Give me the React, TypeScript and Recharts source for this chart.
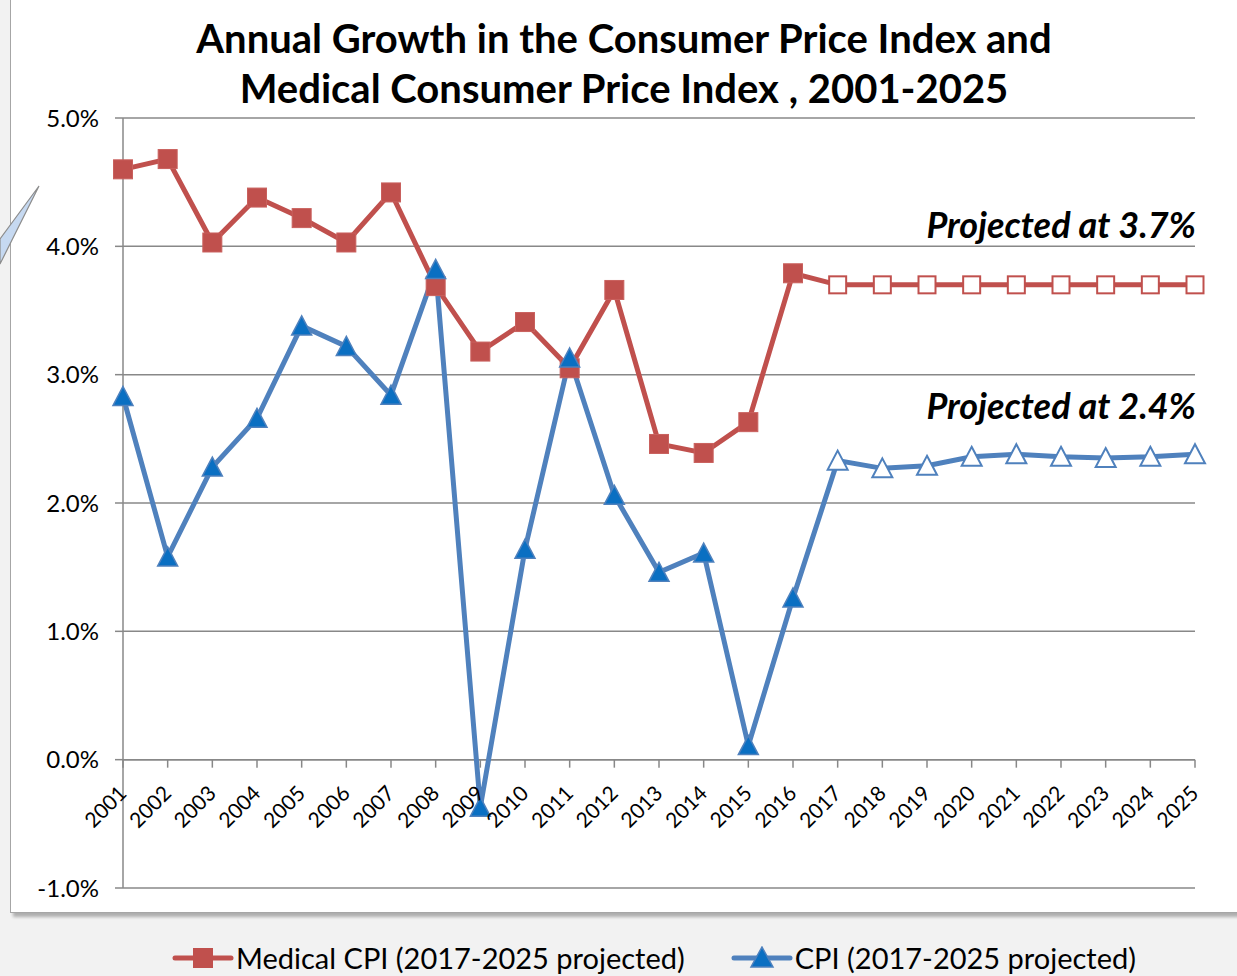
import React from 'react';
import { LineChart, Line, XAxis, YAxis, CartesianGrid, ReferenceLine } from 'recharts';

/** Years on the category axis */
const YEARS = [
  '2001', '2002', '2003', '2004', '2005', '2006', '2007', '2008', '2009', '2010', '2011', '2012', '2013',
  '2014', '2015', '2016', '2017', '2018', '2019', '2020', '2021', '2022', '2023', '2024', '2025',
];

/** Medical CPI annual growth, % */
const MEDICAL_CPI = [
  4.6, 4.68, 4.03, 4.38, 4.22, 4.03, 4.42, 3.69, 3.18, 3.41, 3.05, 3.66, 2.46,
  2.39, 2.63, 3.79, 3.7, 3.7, 3.7, 3.7, 3.7, 3.7, 3.7, 3.7, 3.7,
];

/** CPI annual growth, % */
const CPI = [
  2.83, 1.58, 2.28, 2.66, 3.38, 3.22, 2.84, 3.82, -0.37, 1.64, 3.13, 2.06, 1.46,
  1.61, 0.11, 1.26, 2.33, 2.27, 2.29, 2.36, 2.38, 2.36, 2.35, 2.36, 2.38,
];

const Y_TICKS = [-1, 0, 1, 2, 3, 4, 5];

/** Index of the first projected year (2017) */
const PROJECTED_FROM = 16;

const data = YEARS.map((year, i) => ({ year, medical: MEDICAL_CPI[i], cpi: CPI[i] }));

const FONT = 'Lato, "Open Sans", sans-serif';
const RED = '#c0504d';
const BLUE = '#4f81bd';
const TRI_FILL = '#0a6fc2';
const GRID = '#888888';

const W = 1237;
const H = 976;
const MARGIN = { top: 118, right: 42, bottom: 58, left: 63 };
const X_AXIS_H = 30;
const Y_AXIS_W = 60;
const Y_MIN = -1;
const Y_MAX = 5;
const PLOT_H = H - MARGIN.top - MARGIN.bottom - X_AXIS_H;
/** pixel row of the 0% line, where the category axis crosses */
const ZERO_Y = MARGIN.top + (PLOT_H * Y_MAX) / (Y_MAX - Y_MIN);

function SquareDot(props: any) {
  const { cx, cy, index } = props;
  if (cx == null || cy == null) return null;
  const hollow = index >= PROJECTED_FROM;
  const s = hollow ? 17 : 19;
  return (
    <rect
      key={`sq-${index}`}
      x={cx - s / 2}
      y={cy - s / 2}
      width={s}
      height={s}
      fill={hollow ? '#ffffff' : RED}
      stroke={hollow ? RED : '#c9605d'}
      strokeWidth={hollow ? 2 : 1}
    />
  );
}

function TriangleDot(props: any) {
  const { cx, cy, index } = props;
  if (cx == null || cy == null) return null;
  const hollow = index >= PROJECTED_FROM;
  const w = 20;
  const h = 18;
  const d = `M${cx},${cy - h / 2 - 1} L${cx + w / 2},${cy + h / 2} L${cx - w / 2},${cy + h / 2} Z`;
  return (
    <path
      key={`tr-${index}`}
      d={d}
      fill={hollow ? '#ffffff' : TRI_FILL}
      stroke={BLUE}
      strokeWidth={hollow ? 2 : 1.5}
      strokeLinejoin="miter"
    />
  );
}

function YearTick(props: any) {
  const { x, payload } = props;
  const ax = x + 5;
  const ay = ZERO_Y + 35;
  return (
    <g>
      <line x1={x} y1={ZERO_Y} x2={x} y2={ZERO_Y + 8} stroke={GRID} strokeWidth={1.5} />
      <text
        x={ax}
        y={ay}
        transform={`rotate(-45, ${ax}, ${ay})`}
        textAnchor="end"
        fontFamily={FONT}
        fontSize={21}
        fill="#000"
      >
        {payload.value}
      </text>
    </g>
  );
}

function LegendItem({ color, label, marker }: { color: string; label: string; marker: 'square' | 'triangle' }) {
  return (
    <span style={{ display: 'inline-flex', alignItems: 'center', marginRight: 46 }}>
      <svg width={62} height={24} style={{ marginRight: 2 }}>
        <line x1={3} y1={12} x2={59} y2={12} stroke={color} strokeWidth={5} strokeLinecap="round" />
        {marker === 'square' ? (
          <rect x={21} y={2} width={20} height={20} fill={RED} />
        ) : (
          <path d="M31,1 L42,21 L20,21 Z" fill={TRI_FILL} stroke={BLUE} strokeWidth={1.5} />
        )}
      </svg>
      <span>{label}</span>
    </span>
  );
}

export default function App(): React.JSX.Element {
  return (
    <div
      style={{
        position: 'absolute', left: 0, top: 0, width: W, height: H,
        background: '#f2f2f2', overflow: 'hidden', fontFamily: FONT,
      }}
    >
      {/* chart frame */}
      <div
        style={{
          position: 'absolute', left: 10, top: -4, width: W, height: 915,
          background: '#ffffff', border: '1.5px solid #a6a6a6',
          boxShadow: '3px 4px 3px rgba(0,0,0,0.28)',
        }}
      />
      {/* callout tail */}
      <svg width={50} height={100} style={{ position: 'absolute', left: 0, top: 176 }}>
        <polygon points="0,63 39,10 0,88" fill="#c6d9f1" stroke="#8c8c8c" strokeWidth={1.2} />
      </svg>

      <div
        style={{
          position: 'absolute', left: 0, top: 13, width: 1248, textAlign: 'center',
          fontSize: 40, fontWeight: 700, lineHeight: '50px', color: '#000',
        }}
      >
        Annual Growth in the Consumer Price Index and
        <br />
        Medical Consumer Price Index , 2001-2025
      </div>

      <div style={{ position: 'absolute', left: 0, top: 0 }}>
        <LineChart width={W} height={H} data={data} margin={MARGIN}>
          <CartesianGrid horizontal vertical={false} stroke={GRID} strokeWidth={1.5} strokeDasharray="" />
          <XAxis
            dataKey="year"
            height={X_AXIS_H}
            axisLine={false}
            tickLine={false}
            interval={0}
            tick={<YearTick />}
          />
          <YAxis
            width={Y_AXIS_W}
            domain={[Y_MIN, Y_MAX]}
            ticks={Y_TICKS}
            type="number"
            allowDataOverflow
            tickFormatter={(v: number) => `${v.toFixed(1)}%`}
            tick={{ fontFamily: FONT, fontSize: 24, fill: '#000' }}
            tickSize={8}
            tickMargin={16}
            axisLine={{ stroke: GRID, strokeWidth: 1.5 }}
            tickLine={{ stroke: GRID, strokeWidth: 1.5 }}
          />
          <ReferenceLine y={0} stroke={GRID} strokeWidth={1.5} />
          <Line
            dataKey="medical"
            stroke={RED}
            strokeWidth={5}
            dot={<SquareDot />}
            activeDot={false}
            isAnimationActive={false}
          />
          <Line
            dataKey="cpi"
            stroke={BLUE}
            strokeWidth={5}
            dot={<TriangleDot />}
            activeDot={false}
            isAnimationActive={false}
          />
        </LineChart>
      </div>

      <div
        style={{
          position: 'absolute', right: 41, top: 202, fontSize: 36, fontWeight: 700,
          fontStyle: 'italic', color: '#000',
        }}
      >
        Projected at 3.7%
      </div>
      <div
        style={{
          position: 'absolute', right: 41, top: 383, fontSize: 36, fontWeight: 700,
          fontStyle: 'italic', color: '#000',
        }}
      >
        Projected at 2.4%
      </div>

      <div
        style={{
          position: 'absolute', left: 172, top: 940, fontSize: 29, color: '#000',
          display: 'flex', alignItems: 'center', whiteSpace: 'nowrap',
        }}
      >
        <LegendItem color={RED} label="Medical CPI (2017-2025 projected)" marker="square" />
        <LegendItem color={BLUE} label="CPI (2017-2025 projected)" marker="triangle" />
      </div>
    </div>
  );
}
